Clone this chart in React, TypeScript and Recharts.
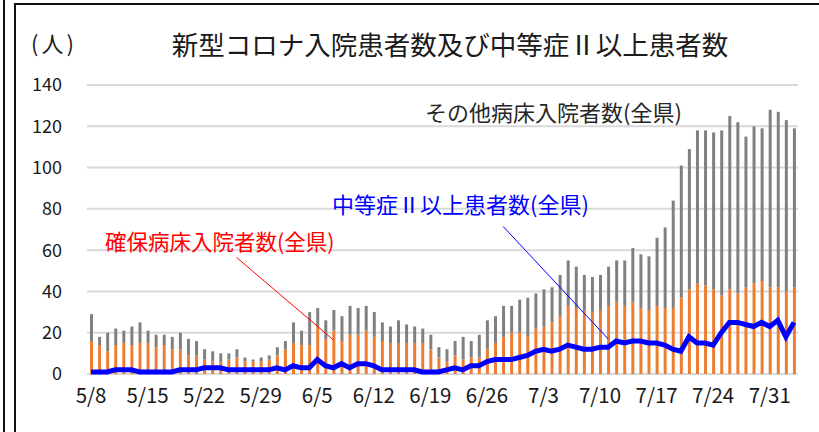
import React from 'react';
import { ComposedChart, Bar, Line, XAxis, YAxis, CartesianGrid, ReferenceLine } from 'recharts';

const dates = [
  '5/8','5/9','5/10','5/11','5/12','5/13','5/14','5/15','5/16','5/17','5/18','5/19','5/20','5/21',
  '5/22','5/23','5/24','5/25','5/26','5/27','5/28','5/29','5/30','5/31','6/1','6/2','6/3','6/4',
  '6/5','6/6','6/7','6/8','6/9','6/10','6/11','6/12','6/13','6/14','6/15','6/16','6/17','6/18',
  '6/19','6/20','6/21','6/22','6/23','6/24','6/25','6/26','6/27','6/28','6/29','6/30','7/1','7/2',
  '7/3','7/4','7/5','7/6','7/7','7/8','7/9','7/10','7/11','7/12','7/13','7/14','7/15','7/16',
  '7/17','7/18','7/19','7/20','7/21','7/22','7/23','7/24','7/25','7/26','7/27','7/28','7/29','7/30',
  '7/31','8/1','8/2','8/3',
];

// 確保病床入院者数(全県)
const securedBeds = [
  16,14,11,14,15,14,15,15,13,14,12,12,9,9,
  7,6,6,7,8,6,6,6,7,9,12,15,14,14,
  23,17,21,16,19,19,21,18,16,15,15,15,15,15,
  12,8,6,9,7,8,8,12,15,18,20,20,18,22,
  23,25,28,33,32,31,30,31,33,35,33,35,32,31,
  33,32,32,37,41,44,43,41,38,41,39,42,44,45,
  42,42,40,42,
];

// その他病床入院者数(全県)
const otherBeds = [
  13,4,9,8,6,9,10,6,6,5,6,8,8,7,
  5,5,4,3,4,2,1,2,2,4,4,10,7,16,
  9,9,10,12,14,13,12,12,9,8,11,9,8,7,
  7,5,6,7,11,8,11,14,13,15,13,16,19,17,
  18,17,20,22,20,17,17,17,19,20,22,26,26,26,
  33,39,52,64,68,74,75,76,80,84,83,73,76,74,
  86,85,83,77,
];

// 中等症Ⅱ以上患者数(全県)
const severe = [
  1,1,1,2,2,2,1,1,1,1,1,2,2,2,
  3,3,3,2,2,2,2,2,2,3,2,4,3,3,
  7,4,3,5,3,5,5,4,2,2,2,2,2,1,
  1,1,2,3,2,4,4,6,7,7,7,8,9,11,
  12,11,12,14,13,12,12,13,13,16,15,16,16,15,
  15,14,12,11,18,15,15,14,20,25,25,24,23,25,
  23,26,18,25,
];

const yTicks = [0, 20, 40, 60, 80, 100, 120, 140];

const data = dates.map((d, i) => ({
  date: d,
  secured: securedBeds[i],
  other: otherBeds[i],
  severe: severe[i],
}));

const JP = '"Noto Sans CJK JP", "Noto Sans", sans-serif';

export default function App() {
  return (
    <div style={{ position: 'absolute', left: 0, top: 0, width: 819, height: 432, background: '#fff', overflow: 'hidden', fontFamily: JP }}>
      <div style={{ position: 'absolute', left: 3, top: 0, width: 2, height: 432, background: '#111' }} />
      <div style={{ position: 'absolute', left: 14, top: 3, width: 900, height: 600, borderLeft: '2px solid #111', borderTop: '2px solid #111' }} />
      <div style={{ position: 'absolute', left: 0, top: 0 }}>
        <ComposedChart
          width={819}
          height={432}
          data={data}
          margin={{ top: 85, right: 21, bottom: 28, left: 0 }}
          barCategoryGap={0}
        >
          <CartesianGrid horizontal vertical={false} stroke="#d9d9d9" strokeWidth={2} />
          <XAxis
            dataKey="date"
            height={30}
            interval={6}
            axisLine={false}
            tickLine={false}
            tickMargin={8}
            tick={{ fontSize: 20.5, fill: '#1a1a1a', fontFamily: JP }}
          />
          <YAxis
            width={87}
            domain={[0, 140]}
            ticks={yTicks}
            axisLine={false}
            tickLine={false}
            tickMargin={19}
            tick={{ fontSize: 18, fill: '#1a1a1a', fontFamily: JP }}
          />
          <Bar dataKey="secured" stackId="a" fill="#ED7D31" barSize={3} isAnimationActive={false} />
          <Bar dataKey="other" stackId="a" fill="#808080" barSize={3} isAnimationActive={false} />
          <Line dataKey="severe" type="linear" stroke="#0000FF" strokeWidth={5} dot={false} isAnimationActive={false} />
          <ReferenceLine segment={[{ x: '5/26', y: 56.5 }, { x: '6/7', y: 16.5 }]} stroke="#FF0000" strokeWidth={1} ifOverflow="visible" />
          <ReferenceLine segment={[{ x: '6/28', y: 71.5 }, { x: '7/11', y: 17 }]} stroke="#0000FF" strokeWidth={1} ifOverflow="visible" />
        </ComposedChart>
      </div>
      <svg width={819} height={432} style={{ position: 'absolute', left: 0, top: 0, pointerEvents: 'none' }}>
        <text x={31} y={52} fontSize={22} letterSpacing={3} fill="#1a1a1a" fontFamily={JP}>(人)</text>
        <text x={450} y={55} fontSize={26.5} fill="#1a1a1a" fontFamily={JP} textAnchor="middle">新型コロナ入院患者数及び中等症Ⅱ以上患者数</text>
        <text x={425} y={121} fontSize={22} fill="#262626" fontFamily={JP}>その他病床入院者数(全県)</text>
        <text x={332} y={213} fontSize={22} fill="#0000FF" fontFamily={JP}>中等症Ⅱ以上患者数(全県)</text>
        <text x={105} y={250} fontSize={21.5} fill="#FF0000" fontFamily={JP}>確保病床入院者数(全県)</text>
      </svg>
    </div>
  );
}
